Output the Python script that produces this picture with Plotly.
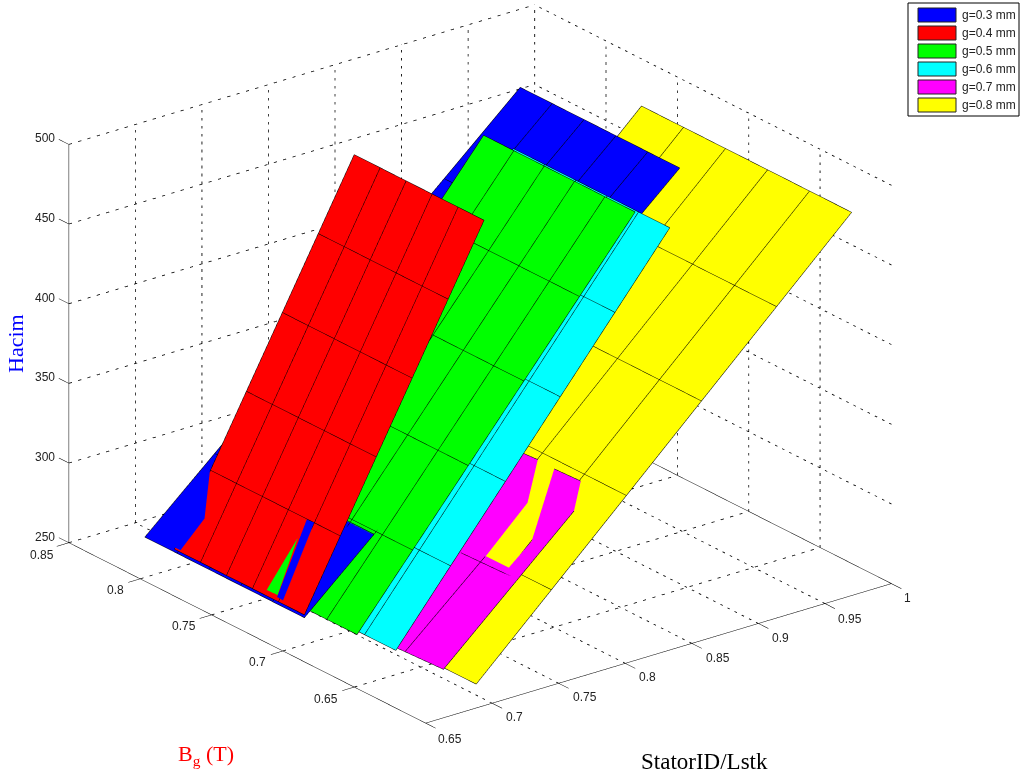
import plotly.graph_objects as go

# ---------- data ----------
ratio_ticks = [0.65, 0.7, 0.75, 0.8, 0.85, 0.9, 0.95, 1]
bg_ticks = [0.65, 0.7, 0.75, 0.8, 0.85]
hacim_ticks = [250, 300, 350, 400, 450, 500]
legend_labels = ["g=0.3 mm", "g=0.4 mm", "g=0.5 mm", "g=0.6 mm", "g=0.7 mm", "g=0.8 mm"]
colors = ["#0000ff", "#ff0000", "#00ff00", "#00ffff", "#ff00ff", "#ffff00"]

ratio_03 = [0.6883, 0.7407, 0.7983, 0.8559, 0.9132, 0.9704]
hacim_03 = [251.9, 291.2, 334.4, 377.6, 420.6, 463.6]
bg_03 = [0.7207, 0.7431, 0.7654, 0.7878, 0.8101, 0.8325]

ratio_04 = [0.6864, 0.7134, 0.7404, 0.7674, 0.7944, 0.8214]
hacim_04 = [255.0, 297.8, 340.6, 383.3, 426.1, 468.9]
bg_04 = [0.7189, 0.7371, 0.7553, 0.7735, 0.7917, 0.8099]

ratio_05 = [0.7002, 0.7420, 0.7838, 0.8256, 0.8674, 0.9092]
hacim_05 = [250.0, 292.6, 335.2, 377.8, 420.4, 463.0]
bg_05 = [0.6949, 0.7161, 0.7374, 0.7586, 0.7799, 0.8011]

ratio_06 = [0.7052, 0.7464, 0.7876, 0.8288, 0.8699, 0.9111]
hacim_06 = [249.0, 291.8, 334.5, 377.3, 420.0, 462.8]
bg_06 = [0.6724, 0.6943, 0.7163, 0.7382, 0.7601, 0.7821]

ratio_08 = [0.7102, 0.7667, 0.8231, 0.8795, 0.9359, 0.9923]
hacim_08 = [250.0, 295.1, 340.2, 385.4, 430.5, 475.6]
bg_08 = [0.6207, 0.6502, 0.6796, 0.7091, 0.7385, 0.7680]

# g=0.7 only shows as an irregular outline where it lies above g=0.8
ratio_07 = [0.7071, 0.7080, 0.8036, 0.8178, 0.8173, 0.7817, 0.7654, 0.7653, 0.7971, 0.8177, 0.8173]
bg_07 = [0.6748, 0.6416, 0.6393, 0.6478, 0.6659, 0.6485, 0.6493, 0.6654, 0.6658, 0.6778, 0.6881]
hacim_07 = [249.6, 250.4, 326.9, 338.3, 337.9, 309.3, 296.4, 296.3, 321.7, 338.2, 337.8]
tri_07 = [(3, 4, 5), (3, 5, 2), (2, 5, 6), (2, 6, 1), (1, 6, 7), (1, 7, 0), (0, 7, 8), (0, 8, 10), (8, 9, 10)]
edges_07 = [
    ([0.7071, 0.7080, 0.8036], [0.6748, 0.6416, 0.6393], [249.6, 250.4, 326.9]),
    ([0.8178, 0.8173], [0.6478, 0.6659], [338.3, 337.9]),
    ([0.8177, 0.8173], [0.6778, 0.6881], [338.2, 337.8]),
    ([0.7610, 0.7628], [0.6788, 0.6411], [293.5, 293.5]),
    ([0.7075, 0.7651], [0.6678, 0.6657], [250.0, 296.0]),
]

# small spots where the g=0.3 and g=0.5 sheets poke through g=0.4
spot_03a = ([0.7126, 0.6981, 0.6859, 0.6859], [0.8094, 0.7998, 0.8053, 0.8108], [299.0, 275.9, 256.5, 256.5])
spot_03b = ([0.7121, 0.7123, 0.6864, 0.6865], [0.7412, 0.7362, 0.7339, 0.7381], [298.3, 298.6, 257.3, 257.5])
spot_05 = ([0.7057, 0.6869, 0.6871], [0.7416, 0.7458, 0.7383], [288.1, 258.3, 258.5])

sheets = [
    (ratio_03, bg_03, hacim_03, colors[0]),
    (ratio_04, bg_04, hacim_04, colors[1]),
    (ratio_05, bg_05, hacim_05, colors[2]),
    (ratio_06, bg_06, hacim_06, colors[3]),
    (ratio_08, bg_08, hacim_08, colors[5]),
]

# ---------- view ----------
X_RANGE = [0.635, 1.005]
Y_RANGE = [0.585, 0.865]
Z_RANGE = [248, 502]
ZOOM = 1.79
EYE_DIST = 1.1
EYE_DIR = (-0.5618, -0.7300, 0.3892)
BIAS = (-0.000374, -0.000344, 0.25)   # nudges edge lines toward the camera

fig = go.Figure()
FLAT = dict(ambient=1, diffuse=0, specular=0, roughness=1, fresnel=0)


def seg(xs, ys, zs, color="black", dash="solid", width=1):
    fig.add_trace(go.Scatter3d(x=xs, y=ys, z=zs, mode="lines", showlegend=False, hoverinfo="skip",
                               line=dict(color=color, width=width, dash=dash)))


def patch(pts, color, tris=None):
    xs, ys, zs = pts
    n = len(xs)
    tris = tris or [(0, k, k + 1) for k in range(1, n - 1)]
    fig.add_trace(go.Mesh3d(x=xs, y=ys, z=zs, i=[t[0] for t in tris], j=[t[1] for t in tris],
                            k=[t[2] for t in tris], color=color, flatshading=True, lighting=FLAT,
                            hoverinfo="skip", showscale=False))


for ratio, bg, hacim, col in sheets:
    fig.add_trace(go.Surface(x=ratio, y=bg, z=[hacim for _ in bg], showscale=False, hoverinfo="skip",
                             colorscale=[[0, col], [1, col]], lighting=FLAT))
    for j in range(len(ratio)):
        seg([ratio[j] + BIAS[0]] * len(bg), [b + BIAS[1] for b in bg], [hacim[j] + BIAS[2]] * len(bg))
    for b in bg:
        seg([r + BIAS[0] for r in ratio], [b + BIAS[1]] * len(ratio), [h + BIAS[2] for h in hacim])

patch((ratio_07, bg_07, hacim_07), colors[4], tri_07)
for ex, ey, ez in edges_07:
    seg([v + BIAS[0] for v in ex], [v + BIAS[1] for v in ey], [v + BIAS[2] for v in ez])
patch(spot_03a, colors[0])
patch(spot_03b, colors[0])
patch(spot_05, colors[2])

# ---------- box, grid, ticks ----------
x0, x1, y0, y1, z0, z1 = 0.65, 1.0, 0.6, 0.85, 250, 500
GRID = dict(dash="dash", width=1.6)
for xt in ratio_ticks:
    if x0 < xt < x1:
        seg([xt, xt], [y0, y1], [z0, z0], **GRID)
    if xt > x0:
        seg([xt, xt], [y1, y1], [z0, z1], **GRID)
for yt in bg_ticks:
    seg([x0, x1], [yt, yt], [z0, z0], **GRID)
    if yt < y1:
        seg([x1, x1], [yt, yt], [z0, z1], **GRID)
for zt in hacim_ticks[1:]:
    seg([x0, x1], [y1, y1], [zt, zt], **GRID)
    seg([x1, x1], [y0, y1], [zt, zt], **GRID)

seg([x0, x1], [y0, y0], [z0, z0])
seg([x0, x0], [y0, y1], [z0, z0])
seg([x1, x1], [y0, y1], [z0, z0])
seg([x0, x0], [y1, y1], [z0, z1])
for xt in ratio_ticks:
    seg([xt, xt], [y0, y0 - 0.007], [z0, z0])
for yt in bg_ticks:
    seg([x0, x0 - 0.009], [yt, yt], [z0, z0])
for zt in hacim_ticks:
    seg([x0, x0], [y1, y1 + 0.007], [zt, zt])

tick_font = dict(family="Liberation Sans", size=12, color="#222222")
scene_ann = []
x_label_shift = [(24, 16), (22, 14), (26, 14), (22, 14), (26, 15), (22, 15), (25, 15), (16, 14)]
for xt, (dx, dy) in zip(ratio_ticks, x_label_shift):
    scene_ann.append(dict(x=xt, y=y0, z=z0, text=f"{xt:g}", showarrow=False, xshift=dx, yshift=-dy,
                          xanchor="center", yanchor="middle", font=tick_font))
y_label_shift = [(-28, 12), (-25, 11), (-28, 11), (-25, 11), (-27, 12)]
for yt, (dx, dy) in zip(bg_ticks, y_label_shift):
    scene_ann.append(dict(x=x0, y=yt, z=z0, text=f"{yt:g}", showarrow=False, xshift=dx, yshift=-dy,
                          xanchor="center", yanchor="middle", font=tick_font))
for zt in hacim_ticks:
    scene_ann.append(dict(x=x0, y=y1, z=zt, text=f"{zt:g}", showarrow=False, xshift=-24, yshift=6,
                          xanchor="center", yanchor="middle", font=tick_font))

# ---------- legend + titles (paper coordinates) ----------
W, H = 1024.0, 778.0


def rect(x_a, y_a, x_b, y_b, fill, line="black", lw=1):
    return dict(type="rect", xref="paper", yref="paper", x0=x_a / W, x1=x_b / W,
                y0=1 - y_b / H, y1=1 - y_a / H, fillcolor=fill, line=dict(color=line, width=lw))


shapes = [rect(908, 3, 1019, 116, "white")]
annots = []
row_tops = [8, 26, 44, 62, 80, 98]
for lab, col, top in zip(legend_labels, colors, row_tops):
    shapes.append(rect(918, top, 956, top + 14, col, "#222222"))
    annots.append(dict(xref="paper", yref="paper", x=960 / W, y=1 - (top + 7) / H, text=lab, showarrow=False,
                       xanchor="left", yanchor="middle", font=dict(family="Liberation Sans", size=12, color="#222222")))

annots.append(dict(xref="paper", yref="paper", x=16 / W, y=1 - 344 / H, text="Hacim", textangle=-90, showarrow=False,
                   xanchor="center", yanchor="middle", font=dict(family="Liberation Serif", size=22, color="#0000ff")))
annots.append(dict(xref="paper", yref="paper", x=206 / W, y=1 - 755 / H, text="B<sub>g</sub> (T)", showarrow=False,
                   xanchor="center", yanchor="middle", font=dict(family="Liberation Serif", size=22, color="#ff0000")))
annots.append(dict(xref="paper", yref="paper", x=704 / W, y=1 - 761 / H, text="StatorID/Lstk", showarrow=False,
                   xanchor="center", yanchor="middle", font=dict(family="Liberation Serif", size=23, color="black")))

hidden = dict(visible=False, showspikes=False)
fig.update_layout(
    width=1024, height=778, margin=dict(l=0, r=0, t=0, b=0), paper_bgcolor="white",
    showlegend=False, shapes=shapes, annotations=annots,
    scene=dict(
        domain=dict(x=[0, 0.9246], y=[0.0591, 1]),
        xaxis=dict(range=X_RANGE, **hidden),
        yaxis=dict(range=Y_RANGE, **hidden),
        zaxis=dict(range=Z_RANGE, **hidden),
        aspectmode="manual", aspectratio=dict(x=0.9485 * ZOOM, y=1.0 * ZOOM, z=0.6706 * ZOOM),
        camera=dict(projection=dict(type="orthographic"),
                    eye=dict(x=EYE_DIR[0] * EYE_DIST, y=EYE_DIR[1] * EYE_DIST, z=EYE_DIR[2] * EYE_DIST),
                    up=dict(x=0, y=0, z=1), center=dict(x=0, y=0, z=0)),
        annotations=scene_ann,
        bgcolor="rgba(0,0,0,0)",
    ),
)
fig.write_html("out.html", config=dict(displayModeBar=False),
               post_script="document.body.style.margin='0';document.body.style.overflow='hidden';")
